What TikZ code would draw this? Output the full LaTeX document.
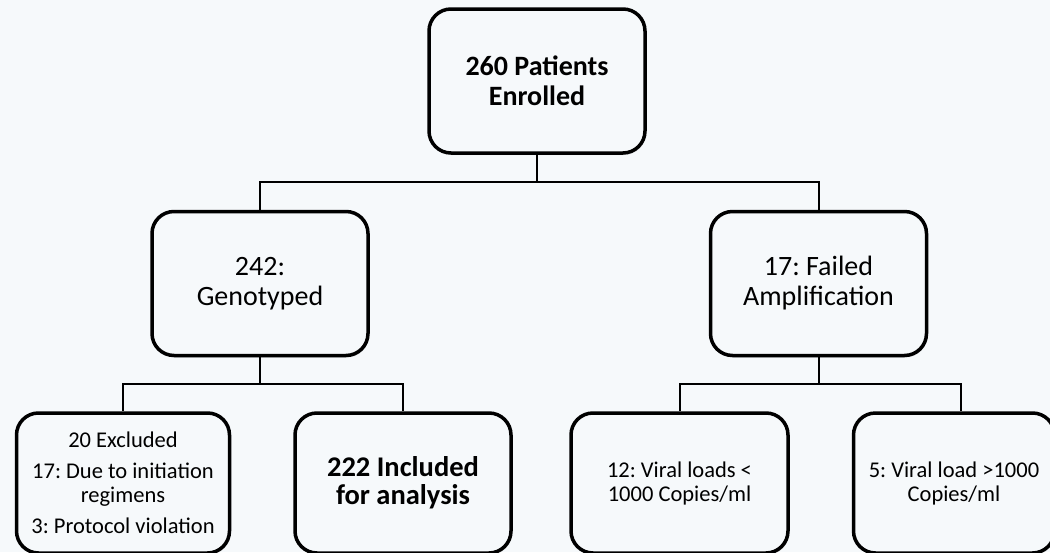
\documentclass[tikz,border=0pt]{standalone}
\usepackage{fontspec}
\setmainfont{Carlito}
\frenchspacing
\usetikzlibrary{positioning, shadows}
\definecolor{paper}{RGB}{246,249,251}
\tikzset{%
  box/.style = {rectangle, rounded corners=22pt, draw, line width=3.5pt,
                fill=paper, align=center, inner sep=0pt,
                minimum width=216pt, minimum height=144pt,
                drop shadow={opacity=0.2, shadow xshift=1pt, shadow yshift=-2pt}},
  leaf/.style = {box, minimum height=140pt},
  big/.style = {font=\fontsize{28}{30}\selectfont},
  small/.style = {font=\fontsize{22.5}{24}\selectfont},
  link/.style = {line width=2pt}
}

\begin{document}
\begin{tikzpicture}
    \fill[paper] (0,0) rectangle (1050pt,-552pt);
    \useasboundingbox (0,0) rectangle (1050pt,-552pt);

    \node (enrolled) [box, big, at={(537pt,-81pt)}] {\bfseries 260 Patients\\\bfseries Enrolled};
    \node (geno)     [box, big, below = 55pt of enrolled, xshift=-277pt] {242:\\Genotyped};
    \node (failed)   [box, big, right = 339pt of geno] {17: Failed\\Amplification};
    \node (excl)     [leaf, small, below = 54pt of geno, xshift=-137pt, minimum width=213pt]
                     {20 Excluded\\[7pt]17: Due to initiation\\regimens\\[7pt]3: Protocol violation};
    \node (incl)     [leaf, font=\fontsize{28.5}{28}\selectfont\bfseries, right = 62pt of excl]
                     {222 Included\\for analysis};
    \node (low)      [leaf, small, below = 54pt of failed, xshift=-139pt, minimum width=217pt]
                     {12: Viral loads <\\1000 Copies/ml};
    \node (high)     [leaf, small, right = 62pt of low, minimum width=201pt]
                     {5: Viral load >1000\\Copies/ml};

    \draw[link] (enrolled.south) -- ++(0,-27pt) -| (geno.north);
    \draw[link] (enrolled.south) -- ++(0,-27pt) -| (failed.north);
    \draw[link] (geno.south)     -- ++(0,-27pt) -| (excl.north);
    \draw[link] (geno.south)     -- ++(0,-27pt) -| (incl.north);
    \draw[link] (failed.south)   -- ++(0,-27pt) -| (low.north);
    \draw[link] (failed.south)   -- ++(0,-27pt) -| ([xshift=7pt]high.north);
\end{tikzpicture}
\end{document}
